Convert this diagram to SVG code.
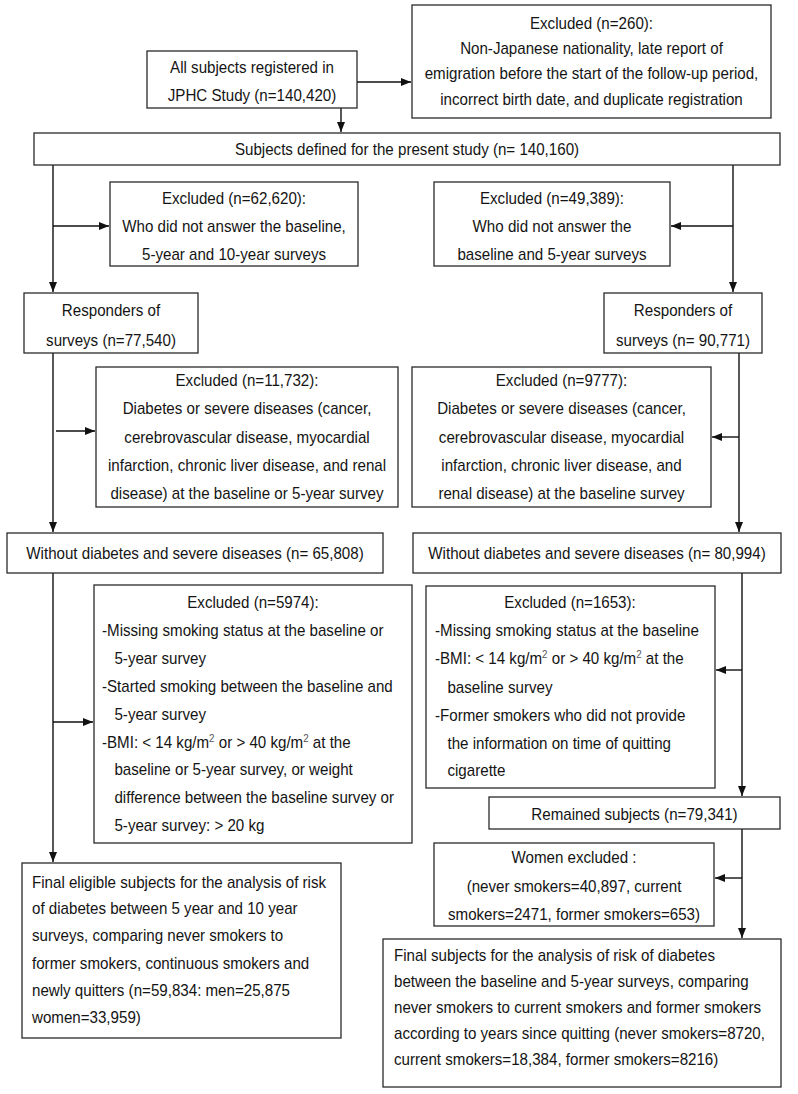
<svg xmlns="http://www.w3.org/2000/svg" width="798" height="1094" viewBox="0 0 798 1094">
<style>
.box{fill:#fff;stroke:#2a2a2a;stroke-width:1.3}
.ln{fill:none;stroke:#111;stroke-width:1.4}
text{font-family:"Liberation Sans",Arial,sans-serif;font-size:17px;fill:#141414}
.c{text-anchor:middle}
.s{font-size:11px;fill:#555}
</style>
<defs>
<marker id="ah" markerUnits="userSpaceOnUse" markerWidth="11" markerHeight="9" refX="10" refY="4" orient="auto">
<path d="M0,0 L10,4 L0,8 z" fill="#111"/>
</marker>
</defs>
<rect width="798" height="1094" fill="#fff"/>
<g id="connectors">
<path class="ln" d="M357,82 H411" marker-end="url(#ah)"/>
<path class="ln" d="M341,108 V132" marker-end="url(#ah)"/>
<path class="ln" d="M53,165 V292" marker-end="url(#ah)"/>
<path class="ln" d="M53,226 H109" marker-end="url(#ah)"/>
<path class="ln" d="M733,165 V292" marker-end="url(#ah)"/>
<path class="ln" d="M733,226 H671" marker-end="url(#ah)"/>
<path class="ln" d="M53,353 V532" marker-end="url(#ah)"/>
<path class="ln" d="M56,431 H95" marker-end="url(#ah)"/>
<path class="ln" d="M739,353 V532" marker-end="url(#ah)"/>
<path class="ln" d="M739,437 H712" marker-end="url(#ah)"/>
<path class="ln" d="M53,573 V862" marker-end="url(#ah)"/>
<path class="ln" d="M53,722 H93" marker-end="url(#ah)"/>
<path class="ln" d="M742,573 V796" marker-end="url(#ah)"/>
<path class="ln" d="M742,670 H716" marker-end="url(#ah)"/>
<path class="ln" d="M742,829 V938" marker-end="url(#ah)"/>
<path class="ln" d="M742,878 H715" marker-end="url(#ah)"/>
</g>
<g id="n_all">
<rect class="box" x="147" y="51" width="210" height="57"/>
<text class="c" transform="translate(252 0) scale(.89 1)"><tspan x="0" y="73.5">All subjects registered in</tspan><tspan x="0" y="101.5">JPHC Study (n=140,420)</tspan></text>
</g>
<g id="n_exc260">
<rect class="box" x="412" y="5" width="359" height="113"/>
<text class="c" transform="translate(591.5 0) scale(.89 1)"><tspan x="0" y="29">Excluded (n=260):</tspan><tspan x="0" y="54">Non-Japanese nationality, late report of</tspan><tspan x="0" y="79">emigration before the start of the follow-up period,</tspan><tspan x="0" y="105">incorrect birth date, and duplicate registration</tspan></text>
</g>
<g id="n_defined">
<rect class="box" x="34" y="133" width="746" height="32"/>
<text class="c" transform="translate(407 0) scale(.89 1)"><tspan x="0" y="155">Subjects defined for the present study (n= 140,160)</tspan></text>
</g>
<g id="n_exc62620">
<rect class="box" x="110" y="182" width="248" height="84"/>
<text class="c" transform="translate(234 0) scale(.89 1)"><tspan x="0" y="204">Excluded (n=62,620):</tspan><tspan x="0" y="232">Who did not answer the baseline,</tspan><tspan x="0" y="260">5-year and 10-year surveys</tspan></text>
</g>
<g id="n_exc49389">
<rect class="box" x="434" y="182" width="236" height="84"/>
<text class="c" transform="translate(552 0) scale(.89 1)"><tspan x="0" y="204">Excluded (n=49,389):</tspan><tspan x="0" y="232">Who did not answer the</tspan><tspan x="0" y="260">baseline and 5-year surveys</tspan></text>
</g>
<g id="n_resp_left">
<rect class="box" x="24" y="293" width="174" height="60"/>
<text class="c" transform="translate(111 0) scale(.89 1)"><tspan x="0" y="316">Responders of</tspan><tspan x="0" y="346">surveys (n=77,540)</tspan></text>
</g>
<g id="n_resp_right">
<rect class="box" x="604" y="293" width="158" height="60"/>
<text class="c" transform="translate(683 0) scale(.89 1)"><tspan x="0" y="316">Responders of</tspan><tspan x="0" y="346">surveys (n= 90,771)</tspan></text>
</g>
<g id="n_exc11732">
<rect class="box" x="96" y="367" width="302" height="140"/>
<text class="c" transform="translate(247 0) scale(.89 1)"><tspan x="0" y="386">Excluded (n=11,732):</tspan><tspan x="0" y="414">Diabetes or severe diseases (cancer,</tspan><tspan x="0" y="443">cerebrovascular disease, myocardial</tspan><tspan x="0" y="471">infarction, chronic liver disease, and renal</tspan><tspan x="0" y="499">disease) at the baseline or 5-year survey</tspan></text>
</g>
<g id="n_exc9777">
<rect class="box" x="412" y="367" width="299" height="140"/>
<text class="c" transform="translate(561.5 0) scale(.89 1)"><tspan x="0" y="386">Excluded (n=9777):</tspan><tspan x="0" y="414">Diabetes or severe diseases (cancer,</tspan><tspan x="0" y="443">cerebrovascular disease, myocardial</tspan><tspan x="0" y="471">infarction, chronic liver disease, and</tspan><tspan x="0" y="499">renal disease) at the baseline survey</tspan></text>
</g>
<g id="n_without_left">
<rect class="box" x="7" y="533" width="376" height="40"/>
<text class="c" transform="translate(195 0) scale(.89 1)"><tspan x="0" y="559">Without diabetes and severe diseases (n= 65,808)</tspan></text>
</g>
<g id="n_without_right">
<rect class="box" x="413" y="533" width="368" height="40"/>
<text class="c" transform="translate(597 0) scale(.89 1)"><tspan x="0" y="559">Without diabetes and severe diseases (n= 80,994)</tspan></text>
</g>
<g id="n_exc5974">
<rect class="box" x="94" y="585" width="318" height="258"/>
<text class="c" transform="translate(253 0) scale(.89 1)"><tspan x="0" y="608">Excluded (n=5974):</tspan></text>
<text transform="translate(102 0) scale(.89 1)"><tspan x="0" y="636">-Missing smoking status at the baseline or</tspan><tspan x="14" y="664">5-year survey</tspan><tspan x="0" y="692">-Started smoking between the baseline and</tspan><tspan x="14" y="720">5-year survey</tspan><tspan x="0" y="748">-BMI: &lt; 14 kg/m<tspan class="s" dy="-6">2</tspan><tspan dy="6"> or &gt; 40 kg/m</tspan><tspan class="s" dy="-6">2</tspan><tspan dy="6"> at the</tspan></tspan><tspan x="14" y="775">baseline or 5-year survey, or weight</tspan><tspan x="14" y="803">difference between the baseline survey or</tspan><tspan x="14" y="831">5-year survey: &gt; 20 kg</tspan></text>
</g>
<g id="n_exc1653">
<rect class="box" x="426" y="586" width="289" height="202"/>
<text class="c" transform="translate(570 0) scale(.89 1)"><tspan x="0" y="608">Excluded (n=1653):</tspan></text>
<text transform="translate(435 0) scale(.89 1)"><tspan x="0" y="636">-Missing smoking status at the baseline</tspan><tspan x="0" y="664">-BMI: &lt; 14 kg/m<tspan class="s" dy="-6">2</tspan><tspan dy="6"> or &gt; 40 kg/m</tspan><tspan class="s" dy="-6">2</tspan><tspan dy="6"> at the</tspan></tspan><tspan x="14" y="693">baseline survey</tspan><tspan x="0" y="721">-Former smokers who did not provide</tspan><tspan x="14" y="749">the information on time of quitting</tspan><tspan x="14" y="776">cigarette</tspan></text>
</g>
<g id="n_remained">
<rect class="box" x="489" y="797" width="291" height="32"/>
<text class="c" transform="translate(634.5 0) scale(.89 1)"><tspan x="0" y="820">Remained subjects (n=79,341)</tspan></text>
</g>
<g id="n_women">
<rect class="box" x="434" y="843" width="280" height="83"/>
<text class="c" transform="translate(574 0) scale(.89 1)"><tspan x="0" y="863">Women excluded :</tspan><tspan x="0" y="892">(never smokers=40,897, current</tspan><tspan x="0" y="920">smokers=2471, former smokers=653)</tspan></text>
</g>
<g id="n_final_left">
<rect class="box" x="22" y="863" width="319" height="175"/>
<text transform="translate(32 0) scale(.89 1)"><tspan x="0" y="888">Final eligible subjects for the analysis of risk</tspan><tspan x="0" y="914">of diabetes between 5 year and 10 year</tspan><tspan x="0" y="941">surveys, comparing never smokers to</tspan><tspan x="0" y="969">former smokers, continuous smokers and</tspan><tspan x="0" y="996">newly quitters (n=59,834: men=25,875</tspan><tspan x="0" y="1023">women=33,959)</tspan></text>
</g>
<g id="n_final_right">
<rect class="box" x="383" y="939" width="398" height="148"/>
<text transform="translate(394 0) scale(.89 1)"><tspan x="0" y="961">Final subjects for the analysis of risk of diabetes</tspan><tspan x="0" y="987">between the baseline and 5-year surveys, comparing</tspan><tspan x="0" y="1013">never smokers to current smokers and former smokers</tspan><tspan x="0" y="1039">according to years since quitting (never smokers=8720,</tspan><tspan x="0" y="1065">current smokers=18,384, former smokers=8216)</tspan></text>
</g>
</svg>
